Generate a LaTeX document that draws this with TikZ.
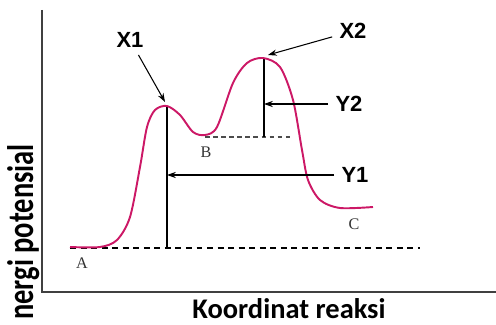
\documentclass[tikz,border=0pt]{standalone}
\usepackage{fontspec}
\usepackage{xcolor}
\usetikzlibrary{arrows.meta}
\newfontfamily\carlito{Carlito}
\newfontfamily\arialf{Liberation Sans}
\newfontfamily\timesf{Liberation Serif}
\definecolor{rxn}{HTML}{CC1866}

\begin{document}
\begin{tikzpicture}[x=0.02cm, y=-0.02cm,
  axis/.style={line width=1.1pt, black!75},
  tag/.style={font=\arialf\bfseries\fontsize{12.5}{14}\selectfont, inner sep=4pt},
  pt/.style={font=\timesf\fontsize{9.2}{11}\selectfont, inner sep=0pt, text=black!80},
  axlbl/.style={font=\carlito\bfseries\fontsize{16.2}{18}\selectfont, inner sep=0pt},
  arr/.style={-{Stealth[length=5pt,width=3.5pt]}, line width=0.6pt},
  lvl/.style={dash pattern=on 3.4pt off 2.6pt, line width=0.6pt}]
\useasboundingbox (0,0) rectangle (496,324);
% axes
\coordinate (top) at (42,10);
\coordinate (orig) at (42,292);
\coordinate (rgt) at (496,292);
\draw[axis] (top) -- (orig) -- (rgt);
\node[axlbl, anchor=base] (xlab) at (289,318) {Koordinat reaksi};
\node[axlbl, rotate=90, yscale=1.3, anchor=base east] (ylab) at (33,144) {nergi potensial};
% energy levels
\coordinate (lvA) at (70,248);
\coordinate (lvAend) at (420,248);
\coordinate (lvB) at (205,137);
\coordinate (lvBend) at (290,137);
\coordinate (p1) at (167,106);
\coordinate (p2) at (264,58);
\draw[lvl] (lvA) -- (lvAend);
\draw[lvl, black!70, dash pattern=on 2.6pt off 2pt] (lvB) -- (lvBend);
\draw[line width=0.9pt] (p1) -- (p1 |- lvA);
\draw[line width=0.9pt] (p2) -- (p2 |- lvB);
% reaction path
\draw[rxn, line width=1.1pt] plot[smooth, tension=0.5] coordinates {(70,247) (100,247) (117,240) (130,217) (140,167) (147,127) (155,110) (167,106) (180,115) (193,132) (205,135) (217,127) (233,83) (247,63) (263,58) (280,67) (293,100) (302,150) (308,180) (320,200) (340,208) (373,207)};
\node[pt] (A) at (82,263) {A};
\node[pt] (B) at (206,152) {B};
\node[pt] (C) at (354,224) {C};
% labels
\node[tag] (x1) at (130,40) {X1};
\node[tag] (x2) at (353,31) {X2};
\node[tag] (y2) at (349,104) {Y2};
\node[tag] (y1) at (355,175) {Y1};
\coordinate (t1) at (165,102);
\coordinate (t2) at (268,55);
\draw[arr] (x1) -- (t1);
\draw[arr] (x2) -- (t2);
\draw[arr] (y2.west) -- (y2.west -| p2);
\draw[arr] (y1.west) -- (y1.west -| p1);
\end{tikzpicture}
\end{document}
